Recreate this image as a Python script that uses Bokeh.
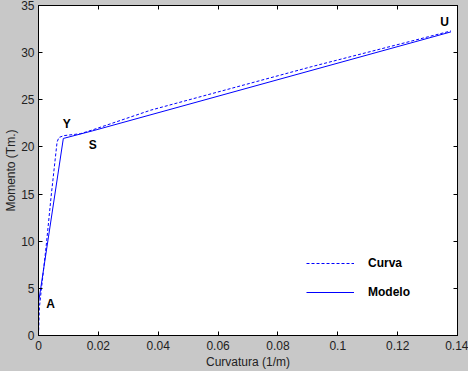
from bokeh.plotting import figure
from bokeh.models import LinearAxis, FixedTicker, Legend, LegendItem, Range1d
from bokeh.core.properties import value
from bokeh.embed import file_html
from bokeh.resources import INLINE

# ---- data ----
curva_x = [0.0, 0.0003, 0.0026, 0.0042, 0.0062, 0.0068, 0.0085, 0.014, 0.018, 0.0375, 0.0911, 0.1378]
curva_y = [0.0, 3.0, 9.6, 14.7, 20.5, 21.0, 21.2, 21.4, 21.8, 23.9, 28.5, 32.3]

modelo_x = [0.0, 0.0, 0.0005, 0.0083, 0.018, 0.1378]
modelo_y = [0.0, 3.5, 4.5, 20.9, 21.7, 32.2]

point_names = ["A", "Y", "S", "U"]
point_x = [0.004, 0.0094, 0.0181, 0.1357]
point_y = [3.3, 22.4, 20.2, 33.2]

x_ticks = [0, 0.02, 0.04, 0.06, 0.08, 0.1, 0.12, 0.14]
x_tick_labels = ["0", "0.02", "0.04", "0.06", "0.08", "0.1", "0.12", "0.14"]
y_ticks = [0, 5, 10, 15, 20, 25, 30, 35]
y_tick_labels = ["0", "5", "10", "15", "20", "25", "30", "35"]

BG = "#c8c8c8"
FONT = "Liberation Sans"
BLUE = "#0000ff"

p = figure(width=468, height=371, output_backend="svg", toolbar_location=None,
           x_range=Range1d(0, 0.14), y_range=Range1d(0, 35),
           x_axis_label="Curvatura (1/m)", y_axis_label="Momento (Tm.)",
           min_border_left=38, min_border_right=11, min_border_top=5, min_border_bottom=35)
p.background_fill_color = "white"
p.border_fill_color = BG
p.outline_line_color = "black"
p.outline_line_width = 1
p.grid.visible = False

def style_axis(ax, ticks, labels, show_labels=True):
    ax.ticker = FixedTicker(ticks=ticks)
    ax.major_label_overrides = {t: l for t, l in zip(ticks, labels)}
    ax.major_tick_in = 4
    ax.major_tick_out = 0
    ax.minor_tick_in = 0
    ax.minor_tick_out = 0
    ax.axis_line_color = "black"
    ax.major_tick_line_color = "black"
    ax.major_label_text_font = FONT
    ax.major_label_text_font_size = "12px" if show_labels else "0px"
    ax.major_label_text_color = "#222222"
    ax.major_label_standoff = 5 if show_labels else 0
    ax.axis_label_text_font = FONT
    ax.axis_label_text_font_size = "12px"
    ax.axis_label_text_font_style = "normal"
    ax.axis_label_text_color = "#222222"

style_axis(p.xaxis[0], x_ticks, x_tick_labels)
style_axis(p.yaxis[0], y_ticks, y_tick_labels)
p.xaxis[0].axis_label_standoff = 2
p.yaxis[0].axis_label_standoff = 0
p.yaxis[0].major_label_standoff = 4

top = LinearAxis()
right = LinearAxis()
style_axis(top, x_ticks, x_tick_labels, show_labels=False)
style_axis(right, y_ticks, y_tick_labels, show_labels=False)
top.major_label_overrides = {t: "" for t in x_ticks}
right.major_label_overrides = {t: "" for t in y_ticks}
p.add_layout(top, "above")
p.add_layout(right, "right")

r_curva = p.line(curva_x, curva_y, line_color=BLUE, line_width=1, line_dash="3 2")
r_modelo = p.line(modelo_x, modelo_y, line_color=BLUE, line_width=1)

p.text(point_x, point_y, text=point_names, text_font=value(FONT), text_font_size="12px",
       text_font_style="bold", text_color="black", text_align="center", text_baseline="middle")

legend = Legend(items=[LegendItem(label="Curva", renderers=[r_curva]),
                       LegendItem(label="Modelo", renderers=[r_modelo])],
                location=(268, 33), padding=0, margin=0, spacing=9,
                glyph_width=48, glyph_height=20, label_height=20, label_standoff=14,
                label_text_font=FONT, label_text_font_size="12px", label_text_font_style="bold",
                label_text_color="black", border_line_color=None, background_fill_alpha=0)
p.add_layout(legend)

html = file_html(p, INLINE)
html = html.replace("<head>", "<head><style>html,body{margin:0;padding:0;background:%s;}</style>" % BG, 1)
open("out.html", "w").write(html)
